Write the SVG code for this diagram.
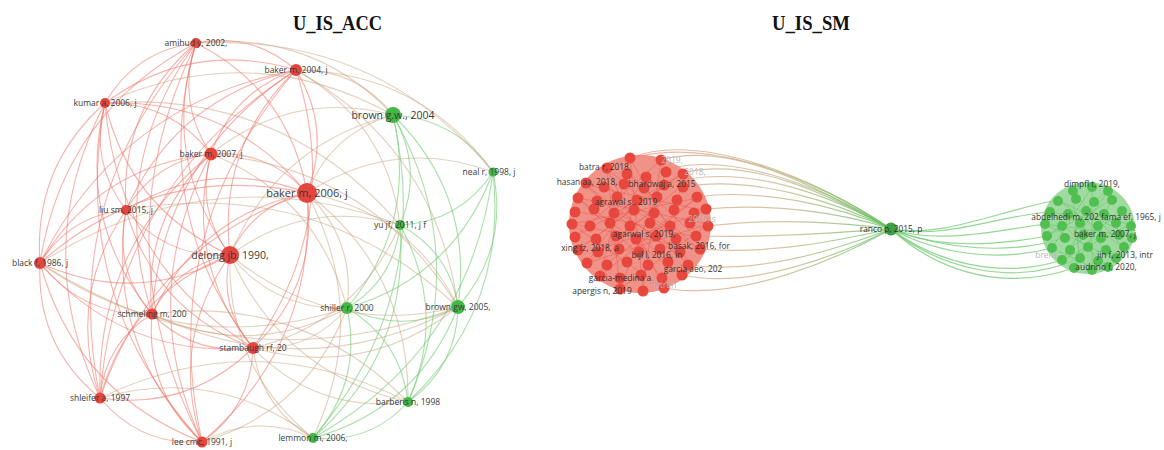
<svg xmlns="http://www.w3.org/2000/svg" width="1164" height="450" viewBox="0 0 1164 450">
<defs>
<linearGradient id="lg" gradientUnits="userSpaceOnUse" x1="650" y1="0" x2="891" y2="0">
<stop offset="0" stop-color="#e2a08a"/><stop offset="0.55" stop-color="#c3b487"/><stop offset="1" stop-color="#62c262"/>
</linearGradient>
<style>
.title{font-family:"Liberation Serif","Times New Roman",serif;font-weight:bold;font-size:21px;fill:#111}
.er path{fill:none;stroke:#ef7368;stroke-opacity:.55;stroke-width:1.1}
.eg path{fill:none;stroke:#6fcb6f;stroke-opacity:.6;stroke-width:1.1}
.ex path{fill:none;stroke:#c9a27c;stroke-opacity:.5;stroke-width:1.1}
.el path{fill:none;stroke:url(#lg);stroke-opacity:.75;stroke-width:1.2}
.eR path{fill:none;stroke:#6ec86e;stroke-opacity:.75;stroke-width:1.2}
.il line{stroke:#e0463c;stroke-opacity:.35;stroke-width:1}
.ig line{stroke:#3fae3f;stroke-opacity:.3;stroke-width:1}
.rn{fill:#e4463d}
.gn{fill:#44b844}
.rc circle{fill:#e8473d}
.gc circle{fill:#4fbf4f}
text.l{font-family:"Open Sans","DejaVu Sans",sans-serif;font-size:8.5px;fill:#3a3a3a;text-anchor:middle}
text.s{font-family:"Open Sans","DejaVu Sans",sans-serif;font-size:8.4px;fill:#333;text-anchor:middle}
text.f{fill:#b9b9b9}
</style>
</defs>
<rect width="1164" height="450" fill="#fff"/>
<text class="title" x="293" y="30" textLength="89" lengthAdjust="spacingAndGlyphs">U_IS_ACC</text>
<text class="title" x="772" y="30" textLength="78" lengthAdjust="spacingAndGlyphs">U_IS_SM</text>

<g id="connectors">
<g class="er">
<path d="M196,43 Q253,32 296,70"/><path d="M105,103 Q136,50 196,43"/><path d="M211,154 Q176,102 196,43"/><path d="M196,43 Q289,90 307,193"/><path d="M126,210 Q119,109 196,43"/><path d="M230,255 Q160,158 196,43"/><path d="M40,263 Q63,114 196,43"/><path d="M152,314 Q106,168 196,43"/><path d="M253,348 Q148,210 196,43"/><path d="M100,398 Q59,197 196,43"/><path d="M202,442 Q99,244 196,43"/>
<path d="M105,103 Q192,39 296,70"/><path d="M211,154 Q233,91 296,70"/><path d="M296,70 Q332,129 307,193"/><path d="M126,210 Q176,98 296,70"/><path d="M230,255 Q217,146 296,70"/><path d="M40,263 Q120,103 296,70"/><path d="M152,314 Q163,156 296,70"/><path d="M296,70 Q344,220 253,348"/><path d="M100,398 Q116,185 296,70"/><path d="M202,442 Q156,233 296,70"/>
<path d="M105,103 Q171,102 211,154"/><path d="M105,103 Q229,98 307,193"/><path d="M126,210 Q89,162 105,103"/><path d="M230,255 Q130,210 105,103"/><path d="M40,263 Q33,167 105,103"/><path d="M152,314 Q76,220 105,103"/><path d="M253,348 Q118,263 105,103"/><path d="M100,398 Q29,249 105,103"/><path d="M202,442 Q69,297 105,103"/>
<path d="M211,154 Q269,150 307,193"/><path d="M126,210 Q155,161 211,154"/><path d="M230,255 Q195,209 211,154"/><path d="M40,263 Q98,166 211,154"/><path d="M152,314 Q142,219 211,154"/><path d="M253,348 Q184,262 211,154"/><path d="M100,398 Q95,248 211,154"/><path d="M202,442 Q135,296 211,154"/>
<path d="M126,210 Q212,156 307,193"/><path d="M230,255 Q253,205 307,193"/><path d="M40,263 Q156,161 307,193"/><path d="M152,314 Q199,215 307,193"/><path d="M307,193 Q319,284 253,348"/><path d="M100,398 Q152,244 307,193"/><path d="M307,193 Q317,344 202,442"/>
<path d="M230,255 Q167,259 126,210"/><path d="M40,263 Q70,215 126,210"/><path d="M152,314 Q113,269 126,210"/><path d="M253,348 Q155,311 126,210"/><path d="M100,398 Q66,298 126,210"/><path d="M202,442 Q106,345 126,210"/>
<path d="M230,255 Q137,307 40,263"/><path d="M152,314 Q176,265 230,255"/><path d="M253,348 Q218,307 230,255"/><path d="M100,398 Q129,294 230,255"/><path d="M202,442 Q169,342 230,255"/>
<path d="M152,314 Q83,317 40,263"/><path d="M253,348 Q125,359 40,263"/><path d="M100,398 Q36,346 40,263"/><path d="M202,442 Q76,393 40,263"/>
<path d="M253,348 Q194,356 152,314"/><path d="M100,398 Q105,343 152,314"/><path d="M202,442 Q145,391 152,314"/>
<path d="M253,348 Q189,411 100,398"/><path d="M253,348 Q251,408 202,442"/><path d="M202,442 Q140,446 100,398"/>
</g>
<g class="eg">
<path d="M393,115 Q457,119 493,172"/><path d="M393,115 Q424,168 400,225"/><path d="M393,115 Q418,223 347,308"/><path d="M393,115 Q474,195 458,307"/><path d="M393,115 Q472,255 408,402"/><path d="M393,115 Q434,297 313,438"/>
<path d="M493,172 Q460,222 400,225"/><path d="M493,172 Q454,277 347,308"/><path d="M493,172 Q509,248 458,307"/><path d="M493,172 Q508,308 408,402"/><path d="M493,172 Q470,350 313,438"/>
<path d="M400,225 Q394,280 347,308"/><path d="M400,225 Q450,252 458,307"/><path d="M400,225 Q448,312 408,402"/><path d="M400,225 Q410,353 313,438"/>
<path d="M458,307 Q403,335 347,308"/><path d="M347,308 Q401,340 408,402"/><path d="M347,308 Q363,382 313,438"/><path d="M458,307 Q457,367 408,402"/><path d="M458,307 Q418,409 313,438"/><path d="M408,402 Q370,444 313,438"/>
</g>
<g class="ex">
<path d="M196,43 Q377,33 493,172"/><path d="M296,70 Q356,68 393,115"/><path d="M296,70 Q420,72 493,172"/><path d="M296,70 Q436,148 458,307"/><path d="M105,103 Q252,37 393,115"/><path d="M211,154 Q292,89 393,115"/><path d="M211,154 Q373,169 458,307"/><path d="M307,193 Q331,133 393,115"/><path d="M307,193 Q395,136 493,172"/><path d="M307,193 Q411,212 458,307"/><path d="M307,193 Q356,241 347,308"/><path d="M307,193 Q371,314 313,438"/><path d="M307,193 Q410,272 408,402"/>
<path d="M230,255 Q277,144 393,115"/><path d="M230,255 Q308,198 400,225"/><path d="M458,307 Q331,338 230,255"/><path d="M347,308 Q275,311 230,255"/><path d="M313,438 Q226,367 230,255"/><path d="M408,402 Q282,373 230,255"/><path d="M458,307 Q238,390 40,263"/><path d="M347,308 Q182,362 40,263"/><path d="M347,308 Q251,360 152,314"/><path d="M458,307 Q307,387 152,314"/><path d="M347,308 Q310,352 253,348"/><path d="M458,307 Q366,379 253,348"/><path d="M408,402 Q317,414 253,348"/><path d="M313,438 Q261,408 253,348"/><path d="M400,225 Q357,323 253,348"/>
<path d="M202,442 Q257,412 313,438"/><path d="M100,398 Q217,365 313,438"/><path d="M100,398 Q255,323 408,402"/><path d="M152,314 Q302,294 408,402"/><path d="M126,210 Q316,176 458,307"/><path d="M211,154 Q318,197 347,308"/><path d="M105,103 Q283,90 400,225"/><path d="M196,43 Q313,30 393,115"/><path d="M40,263 Q211,154 400,225"/><path d="M347,308 Q308,411 202,442"/><path d="M296,70 Q387,122 400,225"/>
</g>
<g class="el">
<path d="M607,168 C690,125 815,178 891,229"/><path d="M630,158 C700,130 820,180 891,229"/><path d="M646,177 C715,143 820,185 891,229"/><path d="M661,160 C730,140 820,188 891,229"/><path d="M664,185 C740,160 830,195 891,229"/><path d="M683,173 C750,156 830,195 891,229"/><path d="M683,187 C750,175 832,200 891,229"/><path d="M697,197 C760,188 835,205 891,229"/><path d="M706,209 C770,203 840,212 891,229"/><path d="M708,226 C770,218 840,222 891,229"/><path d="M696,236 C770,238 840,232 891,229"/><path d="M700,249 C770,255 840,240 891,229"/><path d="M688,265 C760,275 840,248 891,229"/><path d="M682,275 C750,290 840,255 891,229"/><path d="M664,288 C740,302 840,258 891,229"/>
</g>
<g class="eR">
<path d="M891,229 C945,238 1000,210 1058,200"/><path d="M891,229 C945,240 1000,215 1050,212"/><path d="M891,229 C940,245 1000,230 1045,224"/><path d="M891,229 C940,250 1000,245 1047,236"/><path d="M891,229 C945,250 1010,255 1065,238"/><path d="M891,229 C940,255 1000,262 1052,248"/><path d="M891,229 C935,262 1000,280 1062,260"/><path d="M891,229 C935,265 1010,290 1080,258"/><path d="M891,229 C930,265 995,295 1074,268"/>
</g>
</g>

<g id="cluster-sm-red">
<ellipse cx="640" cy="224" rx="71" ry="69" fill="#f0867b" fill-opacity=".9"/>
<g class="il">
<line x1="630" y1="158" x2="600" y2="276"/><line x1="630" y1="158" x2="688" y2="263"/><line x1="661" y1="160" x2="575" y2="237"/><line x1="661" y1="160" x2="643" y2="289"/><line x1="607" y1="168" x2="700" y2="250"/><line x1="607" y1="168" x2="620" y2="289"/><line x1="683" y1="173" x2="578" y2="250"/><line x1="683" y1="173" x2="664" y2="289"/><line x1="586" y1="185" x2="706" y2="211"/><line x1="586" y1="185" x2="682" y2="276"/><line x1="683" y1="185" x2="587" y2="263"/><line x1="578" y1="198" x2="708" y2="224"/><line x1="697" y1="198" x2="572" y2="224"/><line x1="578" y1="198" x2="662" y2="276"/><line x1="697" y1="198" x2="607" y2="263"/><line x1="575" y1="211" x2="696" y2="237"/><line x1="706" y1="211" x2="598" y2="250"/><line x1="572" y1="224" x2="700" y2="250"/><line x1="708" y1="224" x2="587" y2="263"/><line x1="575" y1="237" x2="683" y2="173"/><line x1="696" y1="237" x2="627" y2="172"/><line x1="578" y1="250" x2="664" y2="185"/><line x1="700" y1="250" x2="604" y2="185"/><line x1="587" y1="263" x2="646" y2="177"/><line x1="688" y1="263" x2="586" y2="185"/><line x1="600" y1="276" x2="697" y2="198"/><line x1="682" y1="276" x2="578" y2="198"/><line x1="620" y1="289" x2="666" y2="172"/><line x1="664" y1="289" x2="607" y2="168"/><line x1="643" y1="289" x2="630" y2="158"/><line x1="572" y1="224" x2="664" y2="289"/><line x1="708" y1="224" x2="620" y2="289"/><line x1="617" y1="198" x2="676" y2="237"/><line x1="637" y1="198" x2="619" y2="250"/><line x1="654" y1="211" x2="598" y2="250"/><line x1="614" y1="211" x2="680" y2="250"/>
</g>
<g class="rc">
<circle cx="630" cy="158" r="5.5"/><circle cx="661" cy="160" r="5.5"/>
<circle cx="607" cy="168" r="5.5"/><circle cx="627" cy="174" r="5.5"/><circle cx="646" cy="177" r="5.5"/><circle cx="666" cy="172" r="5.5"/><circle cx="683" cy="174" r="5.5"/>
<circle cx="586" cy="183" r="5.5"/><circle cx="604" cy="187" r="5.5"/><circle cx="624" cy="184" r="5.5"/><circle cx="644" cy="188" r="5.5"/><circle cx="664" cy="185" r="5.5"/><circle cx="683" cy="187" r="5.5"/>
<circle cx="578" cy="198" r="5.5"/><circle cx="597" cy="201" r="5.5"/><circle cx="617" cy="197" r="5.5"/><circle cx="637" cy="200" r="5.5"/><circle cx="657" cy="197" r="5.5"/><circle cx="677" cy="200" r="5.5"/><circle cx="697" cy="197" r="5.5"/>
<circle cx="575" cy="212" r="5.5"/><circle cx="594" cy="209" r="5.5"/><circle cx="614" cy="213" r="5.5"/><circle cx="634" cy="210" r="5.5"/><circle cx="654" cy="213" r="5.5"/><circle cx="674" cy="210" r="5.5"/><circle cx="694" cy="213" r="5.5"/><circle cx="706" cy="209" r="5.5"/>
<circle cx="572" cy="224" r="5.5"/><circle cx="590" cy="226" r="5.5"/><circle cx="610" cy="223" r="5.5"/><circle cx="630" cy="226" r="5.5"/><circle cx="650" cy="223" r="5.5"/><circle cx="670" cy="226" r="5.5"/><circle cx="690" cy="223" r="5.5"/><circle cx="708" cy="226" r="5.5"/>
<circle cx="575" cy="237" r="5.5"/><circle cx="596" cy="239" r="5.5"/><circle cx="616" cy="236" r="5.5"/><circle cx="636" cy="239" r="5.5"/><circle cx="656" cy="236" r="5.5"/><circle cx="676" cy="239" r="5.5"/><circle cx="696" cy="236" r="5.5"/>
<circle cx="578" cy="250" r="5.5"/><circle cx="598" cy="252" r="5.5"/><circle cx="619" cy="249" r="5.5"/><circle cx="639" cy="252" r="5.5"/><circle cx="660" cy="249" r="5.5"/><circle cx="680" cy="252" r="5.5"/><circle cx="700" cy="249" r="5.5"/>
<circle cx="587" cy="263" r="5.5"/><circle cx="607" cy="265" r="5.5"/><circle cx="627" cy="262" r="5.5"/><circle cx="648" cy="265" r="5.5"/><circle cx="668" cy="262" r="5.5"/><circle cx="688" cy="265" r="5.5"/>
<circle cx="600" cy="276" r="5.5"/><circle cx="620" cy="278" r="5.5"/><circle cx="641" cy="275" r="5.5"/><circle cx="662" cy="278" r="5.5"/><circle cx="682" cy="275" r="5.5"/>
<circle cx="620" cy="289" r="5.5"/><circle cx="643" cy="291" r="5.5"/><circle cx="664" cy="288" r="5.5"/>
</g>
<text class="s f" x="672" y="163">2019,</text>
<text class="s f" x="695" y="175">2018,</text>
<text class="s f" x="702" y="222">2016, s</text>
<text class="s f" x="665" y="288">lytren</text>
<g id="n-batra"><text class="s" x="605" y="170">batra r, 2018,</text></g>
<g id="n-hasan"><text class="s" x="587" y="185">hasan aa, 2018,</text></g>
<g id="n-bhardwaj"><text class="s" x="662" y="187">bhardwaj a, 2015</text></g>
<g id="n-agrawal"><text class="s" x="626" y="205">agrawal s., 2019</text></g>
<g id="n-agarwal"><text class="s" x="644" y="237">agarwal s, 2019,</text></g>
<g id="n-xing"><text class="s" x="590" y="251">xing fz, 2018, a</text></g>
<g id="n-basak"><text class="s" x="699" y="249" fill="#8a8a8a">basak, 2016, for</text></g>
<g id="n-bijl"><text class="s" x="657" y="258">bijl l, 2016, in</text></g>
<g id="n-garcia"><text class="s" x="693" y="272">garcia aeo, 202</text></g>
<g id="n-garcia-medina"><text class="s" x="620" y="281">garcia-medina a</text></g>
<g id="n-apergis"><text class="s" x="602" y="294">apergis n, 2019</text></g>
</g>

<g id="cluster-sm-green">
<ellipse cx="1088" cy="228" rx="47" ry="46" fill="#8fd48f" fill-opacity=".85"/>
<g class="ig">
<line x1="1072" y1="191" x2="1080" y2="260"/><line x1="1092" y1="187" x2="1052" y2="248"/><line x1="1108" y1="191" x2="1062" y2="260"/><line x1="1058" y1="200" x2="1124" y2="248"/><line x1="1112" y1="200" x2="1047" y2="236"/><line x1="1050" y1="212" x2="1131" y2="224"/><line x1="1122" y1="212" x2="1070" y2="248"/><line x1="1045" y1="224" x2="1116" y2="260"/><line x1="1131" y1="224" x2="1062" y2="260"/><line x1="1047" y1="236" x2="1108" y2="191"/><line x1="1132" y1="236" x2="1058" y2="200"/><line x1="1052" y1="248" x2="1094" y2="268"/><line x1="1124" y1="248" x2="1072" y2="191"/><line x1="1074" y1="268" x2="1112" y2="200"/><line x1="1108" y1="268" x2="1050" y2="212"/><line x1="1092" y1="268" x2="1092" y2="187"/><line x1="1045" y1="224" x2="1132" y2="236"/><line x1="1068" y1="212" x2="1116" y2="260"/>
</g>
<g class="gc">
<circle cx="1073" cy="191" r="5"/><circle cx="1092" cy="187" r="5"/><circle cx="1108" cy="191" r="5"/>
<circle cx="1058" cy="201" r="5"/><circle cx="1076" cy="199" r="5"/><circle cx="1094" cy="202" r="5"/><circle cx="1112" cy="200" r="5"/>
<circle cx="1050" cy="212" r="5"/><circle cx="1068" cy="214" r="5"/><circle cx="1086" cy="211" r="5"/><circle cx="1104" cy="214" r="5"/><circle cx="1122" cy="211" r="5"/>
<circle cx="1045" cy="224" r="5"/><circle cx="1062" cy="226" r="5"/><circle cx="1080" cy="223" r="5"/><circle cx="1098" cy="226" r="5"/><circle cx="1116" cy="223" r="5"/><circle cx="1131" cy="226" r="5"/>
<circle cx="1047" cy="236" r="5"/><circle cx="1065" cy="238" r="5"/><circle cx="1083" cy="235" r="5"/><circle cx="1101" cy="238" r="5"/><circle cx="1119" cy="235" r="5"/><circle cx="1132" cy="238" r="5"/>
<circle cx="1052" cy="248" r="5"/><circle cx="1070" cy="250" r="5"/><circle cx="1088" cy="247" r="5"/><circle cx="1106" cy="250" r="5"/><circle cx="1124" cy="247" r="5"/>
<circle cx="1062" cy="260" r="5"/><circle cx="1080" cy="258" r="5"/><circle cx="1098" cy="261" r="5"/><circle cx="1116" cy="258" r="5"/>
<circle cx="1074" cy="268" r="5"/><circle cx="1092" cy="270" r="5"/><circle cx="1108" cy="267" r="5"/>
</g>
<text class="s f" x="1046" y="258">brent</text>
<g id="n-dimpfl"><text class="s" x="1092" y="187">dimpfl t, 2019,</text></g>
<g id="n-abdelhedi"><text class="s" x="1065" y="220">abdelhedi m, 202</text></g>
<g id="n-fama"><text class="s" x="1131" y="220">fama ef, 1965, j</text></g>
<g id="n-baker07b"><text class="s" x="1105" y="237">baker m, 2007, j</text></g>
<g id="n-jin"><text class="s" x="1125" y="258">jin f, 2013, intr</text></g>
<g id="n-audrino"><text class="s" x="1106" y="270">audrino f, 2020,</text></g>
</g>

<g id="n-ranco"><circle cx="891" cy="229" r="6.5" fill="#3fa03f"/><text class="s" x="891" y="232">ranco p, 2015, p</text></g>

<g id="n-amihud"><circle class="rn" cx="196" cy="43" r="5"/><text class="l" x="196" y="46">amihud y, 2002,</text></g>
<g id="n-baker04"><circle class="rn" cx="296" cy="70" r="6"/><text class="l" x="296" y="73">baker m, 2004, j</text></g>
<g id="n-kumar"><circle class="rn" cx="105" cy="103" r="5"/><text class="l" x="105" y="106">kumar a, 2006, j</text></g>
<g id="n-baker07"><circle class="rn" cx="211" cy="154" r="6.5"/><text class="l" x="211" y="157">baker m, 2007, j</text></g>
<g id="n-baker06"><circle class="rn" cx="307" cy="193" r="10"/><text class="l" x="307" y="197" style="font-size:11px">baker m, 2006, j</text></g>
<g id="n-liu"><circle class="rn" cx="126" cy="210" r="5"/><text class="l" x="126" y="213">liu sm, 2015, j</text></g>
<g id="n-delong"><circle class="rn" cx="230" cy="255" r="9"/><text class="l" x="230" y="259" style="font-size:10.5px">delong jb, 1990,</text></g>
<g id="n-black"><circle class="rn" cx="40" cy="263" r="6"/><text class="l" x="40" y="266">black f, 1986, j</text></g>
<g id="n-schmeling"><circle class="rn" cx="152" cy="314" r="5.5"/><text class="l" x="152" y="317">schmeling m, 200</text></g>
<g id="n-stambaugh"><circle class="rn" cx="253" cy="348" r="6"/><text class="l" x="253" y="351">stambaugh rf, 20</text></g>
<g id="n-shleifer"><circle class="rn" cx="100" cy="398" r="5.5"/><text class="l" x="100" y="401">shleifer a, 1997</text></g>
<g id="n-lee"><circle class="rn" cx="202" cy="442" r="5.5"/><text class="l" x="202" y="445">lee cmc, 1991, j</text></g>
<g id="n-brown04"><circle class="gn" cx="393" cy="115" r="8"/><text class="l" x="393" y="119" style="font-size:10.5px">brown g.w., 2004</text></g>
<g id="n-neal"><circle class="gn" cx="493" cy="172" r="4.5"/><text class="l" x="489" y="175">neal r, 1998, j</text></g>
<g id="n-yu"><circle class="gn" cx="400" cy="225" r="5"/><text class="l" x="400" y="228">yu jf, 2011, j f</text></g>
<g id="n-shiller"><circle class="gn" cx="347" cy="308" r="6"/><text class="l" x="347" y="311">shiller r, 2000</text></g>
<g id="n-brown05"><circle class="gn" cx="458" cy="307" r="7"/><text class="l" x="458" y="310">brown gw, 2005,</text></g>
<g id="n-barberis"><circle class="gn" cx="408" cy="402" r="5"/><text class="l" x="408" y="405">barberis n, 1998</text></g>
<g id="n-lemmon"><circle class="gn" cx="313" cy="438" r="5"/><text class="l" x="313" y="441">lemmon m, 2006,</text></g>
</svg>
